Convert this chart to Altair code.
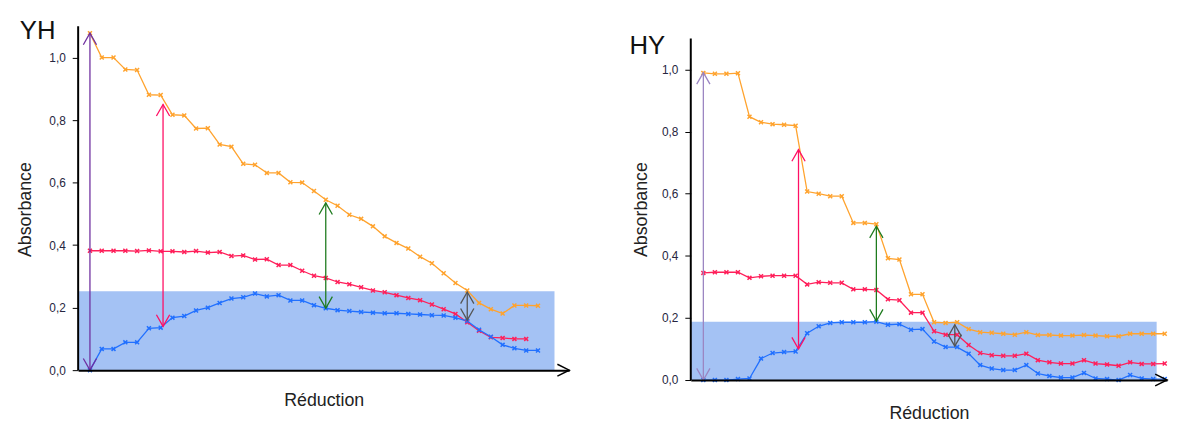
import altair as alt
import pandas as pd

# ---------------- data ----------------
yh_orange = [1.078, 1.0, 1.0, 0.962, 0.96, 0.881, 0.88, 0.817, 0.815, 0.773, 0.774,
             0.722, 0.715, 0.66, 0.657, 0.631, 0.631, 0.601, 0.6, 0.573, 0.545, 0.526,
             0.497, 0.484, 0.46, 0.428, 0.407, 0.389, 0.363, 0.342, 0.31, 0.279, 0.255,
             0.215, 0.195, 0.181, 0.207, 0.207, 0.206]
yh_red = [0.382, 0.382, 0.382, 0.382, 0.381, 0.383, 0.380, 0.380, 0.378, 0.381, 0.376,
          0.378, 0.365, 0.367, 0.354, 0.355, 0.336, 0.336, 0.318, 0.302, 0.295, 0.282,
          0.275, 0.265, 0.255, 0.249, 0.24, 0.231, 0.224, 0.21, 0.195, 0.18, 0.153,
          0.126, 0.105, 0.103, 0.1, 0.1]
yh_blue = [0.0, 0.068, 0.068, 0.089, 0.089, 0.134, 0.136, 0.168, 0.173, 0.191, 0.2,
           0.215, 0.229, 0.233, 0.245, 0.236, 0.24, 0.223, 0.223, 0.208, 0.198, 0.192,
           0.189, 0.186, 0.184, 0.182, 0.182, 0.18, 0.178, 0.176, 0.175, 0.168, 0.157,
           0.129, 0.107, 0.081, 0.07, 0.063, 0.063]

hy_orange = [0.989, 0.986, 0.986, 0.988, 0.848, 0.83, 0.824, 0.822, 0.819, 0.607, 0.6,
             0.592, 0.592, 0.506, 0.506, 0.502, 0.392, 0.388, 0.276, 0.276, 0.186, 0.184,
             0.186, 0.164, 0.154, 0.152, 0.149, 0.146, 0.154, 0.145, 0.145, 0.143, 0.143,
             0.145, 0.143, 0.141, 0.141, 0.149, 0.149, 0.149, 0.149]
hy_red = [0.345, 0.347, 0.347, 0.347, 0.329, 0.334, 0.336, 0.336, 0.336, 0.308, 0.315,
          0.313, 0.313, 0.292, 0.292, 0.29, 0.26, 0.257, 0.217, 0.217, 0.157, 0.146,
          0.146, 0.113, 0.087, 0.08, 0.078, 0.078, 0.085, 0.064, 0.057, 0.053, 0.053,
          0.064, 0.053, 0.05, 0.046, 0.057, 0.052, 0.052, 0.053]
hy_blue = [0.0, 0.0, 0.0, 0.003, 0.005, 0.069, 0.087, 0.09, 0.092, 0.151, 0.173,
           0.184, 0.186, 0.186, 0.186, 0.188, 0.178, 0.18, 0.162, 0.164, 0.124, 0.106,
           0.106, 0.085, 0.048, 0.037, 0.032, 0.032, 0.048, 0.021, 0.013, 0.008, 0.008,
           0.023, 0.005, 0.003, 0.0, 0.016, 0.005, 0.003, 0.003]

# double-headed arrows: position, low end, high end
yh_arrow_x = [0, 6.2, 20, 32]
yh_arrow_lo = [0.0, 0.14, 0.198, 0.16]
yh_arrow_hi = [1.078, 0.85, 0.535, 0.25]
hy_arrow_x = [0, 8.25, 15, 21.8]
hy_arrow_lo = [0.0, 0.10, 0.19, 0.109]
hy_arrow_hi = [0.99, 0.742, 0.495, 0.178]

# shaded band: x start, x end, top value
yh_band = [-1.0, 39.4, 0.252]
hy_band = [-1.09, 39.3, 0.188]

# x extent of each panel (origin .. arrow tip)
yh_x_range = [-1.0, 40.65]
hy_x_range = [-1.09, 40.2]
axis_top = 1.1
y_ticks = [0, 0.2, 0.4, 0.6, 0.8, 1.0]

series_names = ["orange", "rouge", "bleu"]
series_colors = ["#FFA32E", "#FF1F5A", "#2170FF"]
yh_arrow_colors = ["#7030A0", "#FF0F64", "#1E7B1E", "#555555"]
hy_arrow_colors = ["#9B85C2", "#FF0F64", "#1E7B1E", "#555555"]

FONT = "Liberation Sans"
UP_HEAD = "M -1 1.75 L 0 0 L 1 1.75"
DOWN_HEAD = "M -1 -1.75 L 0 0 L 1 -1.75"
RIGHT_HEAD = "M -2 -1 L 0 0 L -2 1"
X_MARK = "M -1 -1 L 1 1 M -1 1 L 1 -1"


def panel(name, orange, red, blue, ax, alo, ahi, acol, band, xr, width, height,
          ydmax, title_x, title_y, ytitle_x, xtitle_pad):
    rows = []
    for s, vals, col in zip(series_names, [orange, red, blue], series_colors):
        for i, v in enumerate(vals):
            rows.append({"x": i, "y": v, "s": s, "c": col})
    lines_df = pd.DataFrame(rows)
    arrows_df = pd.DataFrame({"x": ax, "y": alo, "y2": ahi, "c": acol})
    band_df = pd.DataFrame({"x": [band[0]], "x2": [band[1]], "y": [0.0], "y2": [band[2]]})
    yaxis_df = pd.DataFrame({"x": [xr[0]], "y": [0.0], "y2": [axis_top]})
    xhead_df = pd.DataFrame({"x": [xr[1]], "y": [0.0]})
    title_df = pd.DataFrame({"t": [name]})

    xs = alt.Scale(domain=xr, nice=False, zero=False)
    ys = alt.Scale(domain=[0, ydmax], nice=False, zero=False)
    x_axis = alt.Axis(title="Réduction", labels=False, ticks=False, grid=False,
                      domain=True, domainColor="#000", domainWidth=2, zindex=1,
                      titleFont=FONT, titleFontSize=18, titleFontWeight="normal",
                      titleColor="#222", titlePadding=xtitle_pad)
    y_axis = alt.Axis(title="Absorbance", values=y_ticks,
                      labelExpr="replace(format(datum.value, '.1f'), '.', ',')",
                      grid=False, domain=False, ticks=True, tickSize=6, tickColor="#000",
                      tickWidth=1, labelFont=FONT, labelFontSize=12, labelColor="#262640",
                      labelPadding=7, labelFlush=False,
                      titleFont=FONT, titleFontSize=18, titleFontWeight="normal",
                      titleColor="#222", titleAngle=270, titleX=ytitle_x, titleY=185,
                      titleBaseline="alphabetic", titleAlign="center")
    X = alt.X("x:Q", scale=xs, axis=x_axis)
    Y = alt.Y("y:Q", scale=ys, axis=y_axis)

    band_l = alt.Chart(band_df).mark_rect(color="#A4C2F4").encode(
        x=X, x2="x2:Q", y=Y, y2="y2:Q")
    yline = alt.Chart(yaxis_df).mark_rule(color="#000", strokeWidth=2).encode(
        x=X, y=Y, y2="y2:Q")
    lines = alt.Chart(lines_df).mark_line(strokeWidth=1.3).encode(
        x=X, y=Y, color=alt.Color("c:N", scale=None), detail="s:N")
    pts = alt.Chart(lines_df).mark_point(shape=X_MARK, filled=False, size=16,
                                         strokeWidth=1.5, opacity=1).encode(
        x=X, y=Y, color=alt.Color("c:N", scale=None))
    arr = alt.Chart(arrows_df).mark_rule(strokeWidth=1.3).encode(
        x=X, y=Y, y2="y2:Q", color=alt.Color("c:N", scale=None))
    up = alt.Chart(arrows_df).mark_point(shape=UP_HEAD, filled=False, size=180,
                                         strokeWidth=1.3, opacity=1).encode(
        x=X, y=alt.Y("y2:Q", scale=ys, axis=y_axis), color=alt.Color("c:N", scale=None))
    down = alt.Chart(arrows_df).mark_point(shape=DOWN_HEAD, filled=False, size=180,
                                           strokeWidth=1.3, opacity=1).encode(
        x=X, y=Y, color=alt.Color("c:N", scale=None))
    xhead = alt.Chart(xhead_df).mark_point(shape=RIGHT_HEAD, filled=False, size=144,
                                           strokeWidth=1.5, color="#000", opacity=1).encode(
        x=X, y=Y)
    title = alt.Chart(title_df).mark_text(align="left", baseline="alphabetic",
                                          fontSize=26, font=FONT, color="#111").encode(
        text="t:N", x=alt.value(title_x), y=alt.value(title_y))

    return alt.layer(band_l, yline, lines, pts, arr, up, down, xhead, title).properties(
        width=width, height=height)


left = panel("YH", yh_orange, yh_red, yh_blue, yh_arrow_x, yh_arrow_lo, yh_arrow_hi,
             yh_arrow_colors, yh_band, yh_x_range, 497, 348, 1.1, -59, 13, -48, 22)
right = panel("HY", hy_orange, hy_red, hy_blue, hy_arrow_x, hy_arrow_lo, hy_arrow_hi,
              hy_arrow_colors, hy_band, hy_x_range, 482, 358, 358 / 314.3, -62, 28, -45, 25)

chart = alt.hconcat(left, right, spacing=123, bounds="flush").configure_view(
    stroke=None).properties(padding={"left": 9, "top": 8, "right": 0, "bottom": 0})

chart.save("out.html", embed_options={"renderer": "svg", "actions": False})
